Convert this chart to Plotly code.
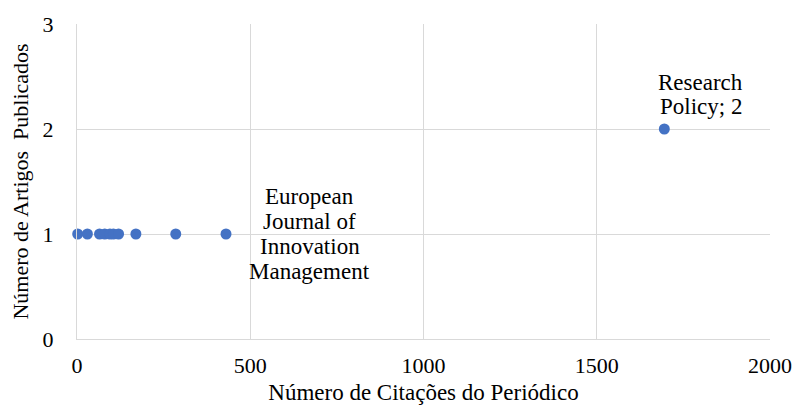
import plotly.graph_objects as go

citations = [2, 30, 65, 80, 95, 105, 120, 170, 285, 430, 1695]
articles = [1, 1, 1, 1, 1, 1, 1, 1, 1, 1, 2]
label_lines = [["European", "Journal of", "Innovation", "Management"],
               ["Research", "Policy; 2"]]
label_x = [672, 1800]
label_y = [1, 2.33]
LINE_STEP = 0.235  # line spacing in y data units

FONT = "Liberation Serif"
fig = go.Figure()
fig.add_trace(go.Scatter(
    x=citations, y=articles, mode="markers",
    marker=dict(color="#4472C4", size=11),
    cliponaxis=False, showlegend=False,
))
for lines, x, yc in zip(label_lines, label_x, label_y):
    n = len(lines)
    for i, t in enumerate(lines):
        y = yc + ((n - 1) / 2 - i) * LINE_STEP
        fig.add_annotation(x=x, y=y, text=t, showarrow=False, xref="x", yref="y",
                           font=dict(family=FONT, size=23, color="#000000"),
                           xanchor="center", yanchor="middle")

fig.update_layout(
    width=797, height=407,
    margin=dict(l=77, r=27, t=24, b=68, autoexpand=False),
    paper_bgcolor="white", plot_bgcolor="white",
    font=dict(family=FONT, size=22, color="#000000"),
)
fig.update_xaxes(
    range=[0, 2000], tickvals=[0, 500, 1000, 1500, 2000],
    showgrid=True, gridcolor="#D9D9D9", gridwidth=1,
    zeroline=False, showline=True, linecolor="#D9D9D9", mirror=False,
    ticks="outside", ticklen=7, tickcolor="rgba(0,0,0,0)", automargin=False,
    tickfont=dict(family=FONT, size=22),
    title=dict(text="Número de Citações do Periódico", standoff=6,
               font=dict(family=FONT, size=23)),
)
fig.update_yaxes(
    range=[0, 3], tickvals=[0, 1, 2, 3],
    showgrid=True, gridcolor="#D9D9D9", gridwidth=1,
    zeroline=False, showline=True, linecolor="#D9D9D9",
    ticks="outside", ticklen=18, tickcolor="rgba(0,0,0,0)", automargin=False,
    tickfont=dict(family=FONT, size=22),
    title=dict(text="Número de Artigos  Publicados", standoff=7,
               font=dict(family=FONT, size=22)),
)
fig.write_html("out.html", config={"displayModeBar": False},
               post_script="document.body.style.margin='0px';")
